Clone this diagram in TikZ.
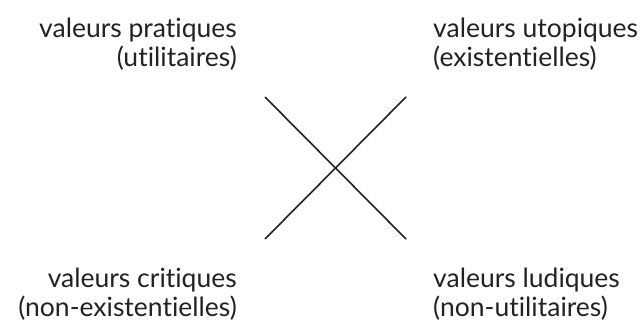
\documentclass[tikz,border=0pt]{standalone}
\usepackage{fontspec}
\setmainfont{Lato}[Ligatures={NoCommon,NoRare}]
\usetikzlibrary{positioning}
\definecolor{ink}{HTML}{222222}
\tikzset{
  valeur/.style={inner sep=0pt, text=ink, font=\fontsize{26.5}{29}\selectfont},
  gauche/.style={valeur, align=right, anchor=base east},
  droite/.style={valeur, align=left, anchor=base west},
  croix/.style={draw=ink, line width=1.6pt}
}
\begin{document}
\begin{tikzpicture}[x=1pt,y=-1pt]
\useasboundingbox (0,0) rectangle (644,327);
\coordinate (hg) at (265,97);
\coordinate (hd) at (406,97);
\coordinate (bg) at (265,239);
\coordinate (bd) at (406,239);
\draw[croix] (hg)--(bd);
\draw[croix] (hd)--(bg);
% deux lignes par coin
\node[gauche] (pratiques) at (237,66) {valeurs pratiques\\(utilitaires)};
\node[droite] (utopiques) at (433,66) {valeurs utopiques\\(existentielles)};
\node[gauche] (critiques) at (237,316) {valeurs critiques\\(non-existentielles)};
\node[droite] (ludiques) at (433,316) {valeurs ludiques\\(non-utilitaires)};
\end{tikzpicture}
\end{document}
